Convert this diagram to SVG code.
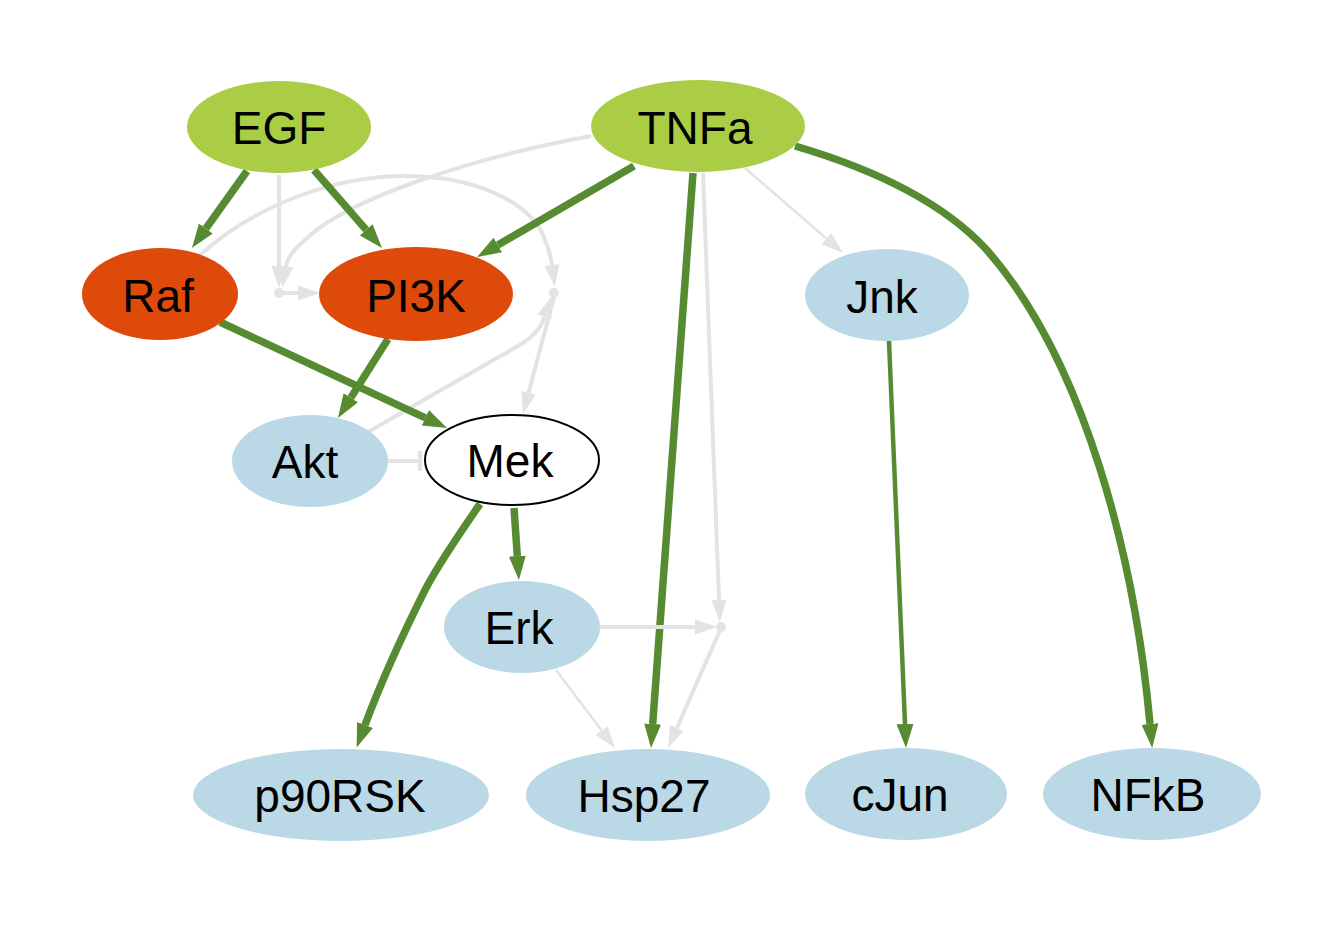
<svg xmlns="http://www.w3.org/2000/svg" width="1343" height="925" viewBox="0 0 1343 925">
<style>
.g{fill:none;stroke:#568b32;stroke-width:7.5}
.g2{fill:none;stroke:#568b32;stroke-width:4.5}
.e{fill:none;stroke:#e3e3e3;stroke-width:4}
.e2{fill:none;stroke:#e3e3e3;stroke-width:2.5}
.in{fill:#aacd45}
.ki{fill:#dd4a0a}
.pr{fill:#bad8e6}
.j{fill:#e3e3e3}
text{font-family:"Liberation Sans",Arial,Helvetica,sans-serif;font-size:46px;fill:#000;text-anchor:middle}
</style>
<defs>
<marker id="ag" markerUnits="userSpaceOnUse" markerWidth="26" markerHeight="20" viewBox="0 -10 26 20" refX="0" refY="0" orient="auto"><path d="M0,-8.5 L24,0 L0,8.5 Z" fill="#568b32"/></marker>
<marker id="ae" markerUnits="userSpaceOnUse" markerWidth="24" markerHeight="18" viewBox="0 -9 24 18" refX="0" refY="0" orient="auto"><path d="M0,-7.5 L22,0 L0,7.5 Z" fill="#e3e3e3"/></marker>
<marker id="tee" markerUnits="userSpaceOnUse" markerWidth="6" markerHeight="24" viewBox="-3 -12 6 24" refX="0" refY="0" orient="auto"><path d="M0,-10 L0,10" stroke="#e3e3e3" stroke-width="4.5"/></marker>
</defs>
<rect width="1343" height="925" fill="#fff"/>
<g id="connectors">
<path class="e" d="M279,175 L279,266" marker-end="url(#ae)"/>
<path class="e" d="M279,293 L298,293" marker-end="url(#ae)"/>
<path class="e" d="M591,136 C 470,158 345,200 305,240 C 292,251 287,260 286,266" marker-end="url(#ae)"/>
<path class="e" d="M200,255 C 255,205 335,176 405,176 C 480,176 530,205 543,235 C 549,249 551,257 552,265" marker-end="url(#ae)"/>
<path class="e" d="M368,432 L518,346 C 532,338 540,330 544.5,317" marker-end="url(#ae)"/>
<path class="e" d="M554,297 L528.6,392.7" marker-end="url(#ae)"/>
<path class="e" d="M388,461 L420,461" marker-end="url(#tee)"/>
<path class="e" d="M703,173 L719,600" marker-end="url(#ae)"/>
<path class="e" d="M721,628 L676.9,727.9" marker-end="url(#ae)"/>
<path class="e2" d="M556,670 L601.7,730.5" marker-end="url(#ae)"/>
<path class="e2" d="M745,168 L826.4,238.6" marker-end="url(#ae)"/>
<circle class="j" cx="279" cy="293" r="5"/>
<circle class="j" cx="554" cy="293" r="5"/>
<circle class="j" cx="721" cy="627" r="5"/>
<path class="g" d="M247,171 L205.9,228.5" marker-end="url(#ag)"/>
<path class="g" d="M314,170 L366.2,229.9" marker-end="url(#ag)"/>
<path class="g" d="M634,166 L497.8,245" marker-end="url(#ag)"/>
<path class="g" d="M220,322 L425.3,417.8" marker-end="url(#ag)"/>
<path class="g" d="M388,339 L350.8,397.7" marker-end="url(#ag)"/>
<path class="g" d="M693,173 L652.7,724" marker-end="url(#ag)"/>
<path class="g" d="M795,146 C 870,168 940,200 985,248 C 1085,360 1135,560 1150,724" marker-end="url(#ag)"/>
<path class="g2" d="M889,341 L905,724" marker-end="url(#ag)"/>
<path class="g" d="M514,508 L517.3,556" marker-end="url(#ag)"/>
<path class="g" d="M480,504 C 455,540 438,565 425,590 C 400,640 378,690 365,725" marker-end="url(#ag)"/>
<path class="e" d="M600,627 L695,627" marker-end="url(#ae)"/>
</g>
<g id="EGF"><ellipse class="in" cx="279" cy="127" rx="92" ry="46"/><text x="279" y="144">EGF</text></g>
<g id="TNFa"><ellipse class="in" cx="698" cy="126" rx="107" ry="46"/><text x="695" y="144">TNFa</text></g>
<g id="Raf"><ellipse class="ki" cx="160" cy="294" rx="78" ry="46"/><text x="158" y="312">Raf</text></g>
<g id="PI3K"><ellipse class="ki" cx="416" cy="294" rx="97" ry="47"/><text x="416" y="312">PI3K</text></g>
<g id="Jnk"><ellipse class="pr" cx="887" cy="295" rx="82" ry="46"/><text x="882" y="313">Jnk</text></g>
<g id="Akt"><ellipse class="pr" cx="310" cy="461" rx="78" ry="46"/><text x="305" y="478">Akt</text></g>
<g id="Mek"><ellipse cx="512" cy="460" rx="87" ry="45" fill="#fff" stroke="#000" stroke-width="2"/><text x="510" y="477">Mek</text></g>
<g id="Erk"><ellipse class="pr" cx="522" cy="627" rx="78" ry="46"/><text x="519" y="644">Erk</text></g>
<g id="p90RSK"><ellipse class="pr" cx="341" cy="795" rx="148" ry="46"/><text x="340" y="812">p90RSK</text></g>
<g id="Hsp27"><ellipse class="pr" cx="648" cy="795" rx="122" ry="46"/><text x="644" y="812">Hsp27</text></g>
<g id="cJun"><ellipse class="pr" cx="906" cy="794" rx="101" ry="46"/><text x="900" y="811">cJun</text></g>
<g id="NFkB"><ellipse class="pr" cx="1152" cy="794" rx="109" ry="46"/><text x="1148" y="811">NFkB</text></g>
</svg>
